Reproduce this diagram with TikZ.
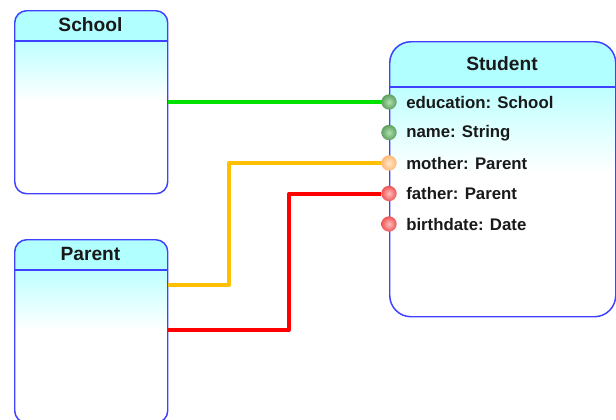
\documentclass[tikz,border=0pt]{standalone}
\usepackage{fontspec}
\setmainfont{Liberation Sans}
\usetikzlibrary{calc}
\definecolor{headcol}{RGB}{178,255,255}
\definecolor{bodytop}{RGB}{190,255,255}
\definecolor{boxblue}{RGB}{64,64,255}
\definecolor{lgreen}{RGB}{0,225,0}
\definecolor{lorange}{RGB}{255,192,0}
\definecolor{lred}{RGB}{255,0,0}
\definecolor{bgreen}{RGB}{95,160,95}
\definecolor{bgreenl}{RGB}{175,225,175}
\definecolor{borange}{RGB}{255,185,120}
\definecolor{borangel}{RGB}{255,230,200}
\definecolor{bred}{RGB}{240,85,85}
\definecolor{bredl}{RGB}{255,190,190}
\tikzset{
  classbox/.style={draw=boxblue, line width=1.1pt, inner sep=0pt, anchor=north west},
  title/.style={font=\fontsize{14.4pt}{16pt}\selectfont\bfseries, text=black!90, inner sep=0pt},
  attr/.style={font=\fontsize{12.6pt}{14pt}\selectfont\bfseries, text=black!90, anchor=west, inner sep=0pt},
  ball/.style={circle, inner sep=0pt, minimum size=11.5pt, shading=radial},
  gball/.style={ball, inner color=bgreenl, outer color=bgreen},
  oball/.style={ball, inner color=borangel, outer color=borange},
  rball/.style={ball, inner color=bredl, outer color=bred},
  conn/.style={line width=3pt, line join=round},
}
\begin{document}
\begin{tikzpicture}[x=0.75pt,y=-0.75pt]
\useasboundingbox (0,0) rectangle (616,419);
% backgrounds
\begin{scope}
  \clip[rounded corners=9pt] (14,10) rectangle (167,193);
  \fill[headcol] (14,10) rectangle (167,41);
  \shade[top color=bodytop, bottom color=white] (14,41) rectangle (167,101);
\end{scope}
\begin{scope}
  \clip[rounded corners=9pt] (14,239) rectangle (167,422);
  \fill[headcol] (14,239) rectangle (167,270);
  \shade[top color=bodytop, bottom color=white] (14,270) rectangle (167,330);
\end{scope}
\begin{scope}
  \clip[rounded corners=16pt] (389,41) rectangle (615,316);
  \fill[headcol] (389,41) rectangle (615,87);
  \shade[top color=bodytop, bottom color=white] (389,87) rectangle (615,172);
\end{scope}
% boxes
\node[classbox, rounded corners=9pt, minimum width=114.75pt, minimum height=137.25pt] (school) at (14,10) {};
\node[classbox, rounded corners=9pt, minimum width=114.75pt, minimum height=137.25pt] (parent) at (14,239) {};
\node[classbox, rounded corners=16pt, minimum width=169.5pt, minimum height=206.25pt] (student) at (389,41) {};
\draw[boxblue, line width=1.1pt] ($(school.north west)+(0,31)$) -- ($(school.north east)+(0,31)$);
\draw[boxblue, line width=1.1pt] ($(parent.north west)+(0,31)$) -- ($(parent.north east)+(0,31)$);
\draw[boxblue, line width=1.1pt] ($(student.north west)+(0,46)$) -- ($(student.north east)+(0,46)$);
% titles
\node[title] (tschool) at (90.5,25) {School};
\node[title] (tparent) at (90.5,254) {Parent};
\node[title] (tstudent) at (502,64) {Student};
% attributes
\node[attr] (a1) at (406,102) {education: School};
\node[attr] (a2) at (406,133.5) {name: String};
\node[attr] (a3) at (406,163) {mother: Parent};
\node[attr] (a4) at (406,193.5) {father: Parent};
\node[attr] (a5) at (406,224) {birthdate: Date};
\node[gball] (b1) at (389,102) {};
\node[gball] (b2) at (389,132.5) {};
\node[oball] (b3) at (389,163) {};
\node[rball] (b4) at (389,193.5) {};
\node[rball] (b5) at (389,224) {};
% connectors
\coordinate (obend) at (229,250);
\coordinate (rbend) at (289,250);
\draw[conn, lgreen] (school.east |- b1) -- (b1.west);
\draw[conn, lorange] ($(parent.north east)+(0,46)$) -| (obend) |- (b3.west);
\draw[conn, lred] ($(parent.north east)+(0,91)$) -| (rbend) |- (b4.west);
\end{tikzpicture}
\end{document}
